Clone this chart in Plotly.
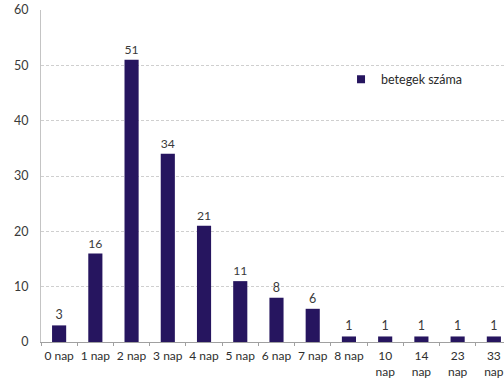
import plotly.graph_objects as go

# Length of stay categories and patient counts
categories = ["0 nap", "1 nap", "2 nap", "3 nap", "4 nap", "5 nap", "6 nap",
              "7 nap", "8 nap", "10<br>nap", "14<br>nap", "23<br>nap", "33<br>nap"]
patients = [3, 16, 51, 34, 21, 11, 8, 6, 1, 1, 1, 1, 1]
series_name = "betegek száma"
y_ticks = [0, 10, 20, 30, 40, 50, 60]

BAR_COLOR = "#26155f"
TEXT_COLOR = "#3a3a3a"
FONT = "Lato, 'Open Sans', sans-serif"

fig = go.Figure()

fig.add_trace(
    go.Bar(
        x=categories,
        y=patients,
        name=series_name,
        width=0.39,
        marker=dict(color=BAR_COLOR, line=dict(width=0)),
        text=[str(v) for v in patients],
        textposition="outside",
        textfont=dict(size=12.5, color=TEXT_COLOR, family=FONT),
        cliponaxis=False,
        showlegend=False,
    )
)

# Legend entry with a small square swatch
fig.add_trace(
    go.Scatter(
        x=[None], y=[None],
        mode="markers",
        name=series_name,
        marker=dict(symbol="square", size=8, color=BAR_COLOR),
        showlegend=True,
    )
)

fig.update_layout(
    width=504,
    height=389,
    margin=dict(l=41, r=0, t=10, b=47),
    paper_bgcolor="white",
    plot_bgcolor="white",
    font=dict(family=FONT, size=12, color=TEXT_COLOR),
    legend=dict(
        x=0.648, y=0.79, xanchor="left", yanchor="middle",
        bgcolor="rgba(0,0,0,0)",
        font=dict(size=12.5, color="#2a2a2a", family=FONT),
        itemwidth=30,
        tracegroupgap=0,
    ),
    xaxis=dict(
        type="category",
        categoryorder="array",
        categoryarray=categories,
        range=[-0.5, 12.28],
        showgrid=False,
        showline=True,
        linecolor="#a0a0a0",
        linewidth=1,
        ticks="outside",
        tickson="boundaries",
        ticklen=3,
        tickcolor="#a0a0a0",
        tickangle=0,
        ticklabelstandoff=3,
        tickfont=dict(size=12, color="#2e2e2e", family=FONT),
        zeroline=False,
    ),
    yaxis=dict(
        range=[0, 60],
        tickvals=y_ticks,
        showgrid=True,
        gridcolor="#cfcfcf",
        griddash="3px,2px",
        gridwidth=1,
        showline=True,
        linecolor="#c4c4c4",
        linewidth=1,
        ticks="",
        ticklabelstandoff=9,
        tickfont=dict(size=12.5, color=TEXT_COLOR, family=FONT),
        zeroline=False,
    ),
)

fig.write_html("out.html")
